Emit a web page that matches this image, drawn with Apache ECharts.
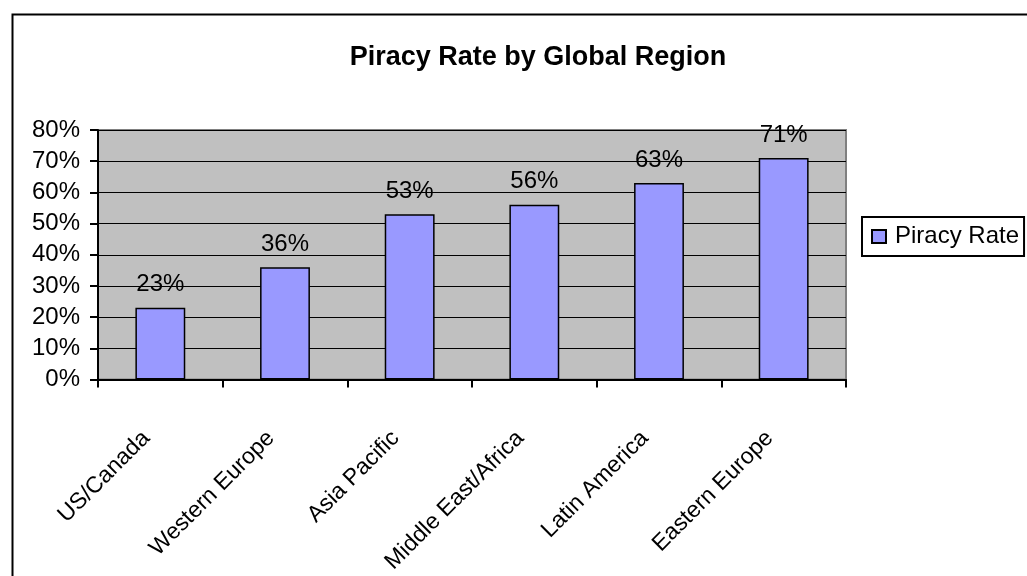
<!DOCTYPE html>
<html>
<head>
<meta charset="utf-8">
<title>Piracy Rate by Global Region</title>
<script src="https://cdn.jsdelivr.net/npm/echarts@6/dist/echarts.min.js"></script>
<style>
  html, body { margin: 0; padding: 0; background: #ffffff; }
  #chart { width: 1027px; height: 576px; }
</style>
</head>
<body>
<div id="chart"></div>
<script>
// Regions along the category axis
const regions = ['US/Canada', 'Western Europe', 'Asia Pacific', 'Middle East/Africa', 'Latin America', 'Eastern Europe'];
// Piracy rate per region (fraction of 1)
const piracyRate = [0.23, 0.36, 0.53, 0.56, 0.63, 0.71];
// Value axis range and step
const yMin = 0;
const yMax = 0.8;
const yStep = 0.1;

const FONT = '"Liberation Sans", Arial, sans-serif';
const pct = v => Math.round(v * 100) + '%';

const chart = echarts.init(document.getElementById('chart'), null, { renderer: 'canvas' });

chart.setOption({
  animation: false,
  backgroundColor: '#ffffff',
  textStyle: { fontFamily: FONT, color: '#000' },
  graphic: [{
    type: 'rect',
    left: 10, top: 12,
    shape: { width: 1100, height: 700 },
    style: { fill: 'none', stroke: '#000', lineWidth: 2 },
    silent: true
  }],
  title: {
    text: 'Piracy Rate by Global Region',
    left: 533,
    textAlign: 'center',
    top: 39,
    textStyle: { fontFamily: FONT, fontSize: 27, fontWeight: 'bold', color: '#000' }
  },
  legend: {
    left: 862,
    top: 217,
    orient: 'vertical',
    padding: [7, 5, 7, 9],
    borderColor: '#000',
    borderWidth: 2,
    backgroundColor: '#fff',
    itemWidth: 14,
    itemHeight: 13,
    icon: 'rect',
    textStyle: { fontFamily: FONT, fontSize: 24, lineHeight: 25, color: '#000', padding: [0, 0, 0, 4] },
    data: ['Piracy Rate']
  },
  grid: {
    left: 98, right: 181, top: 130, bottom: 194,
    show: true,
    backgroundColor: '#C0C0C0',
    borderColor: '#808080',
    borderWidth: 2
  },
  xAxis: {
    type: 'category',
    data: regions,
    boundaryGap: true,
    axisLine: { lineStyle: { color: '#000', width: 2 } },
    axisTick: { show: true, alignWithLabel: false, length: 8, lineStyle: { color: '#000', width: 2 } },
    axisLabel: {
      interval: 0,
      rotate: 45,
      margin: 41,
      padding: [0, 20, 0, 0],
      fontFamily: FONT,
      fontSize: 23,
      color: '#000'
    },
    splitLine: { show: false }
  },
  yAxis: {
    type: 'value',
    min: yMin,
    max: yMax,
    interval: yStep,
    axisLine: { show: true, lineStyle: { color: '#000', width: 2 } },
    axisTick: { show: true, length: 8, lineStyle: { color: '#000', width: 2 } },
    axisLabel: {
      margin: 18,
      padding: [6, 0, 0, 0],
      fontFamily: FONT,
      fontSize: 24,
      color: '#000',
      formatter: pct
    },
    splitLine: { show: true, lineStyle: { color: '#000', width: 1 } }
  },
  series: [{
    name: 'Piracy Rate',
    type: 'bar',
    data: piracyRate,
    barWidth: '40%',
    itemStyle: { color: '#9999FF', borderColor: '#000', borderWidth: 1.5 },
    label: {
      show: true,
      position: 'top',
      distance: 11,
      fontFamily: FONT,
      fontSize: 24,
      color: '#000',
      formatter: p => pct(p.value)
    }
  }]
});
</script>
</body>
</html>
